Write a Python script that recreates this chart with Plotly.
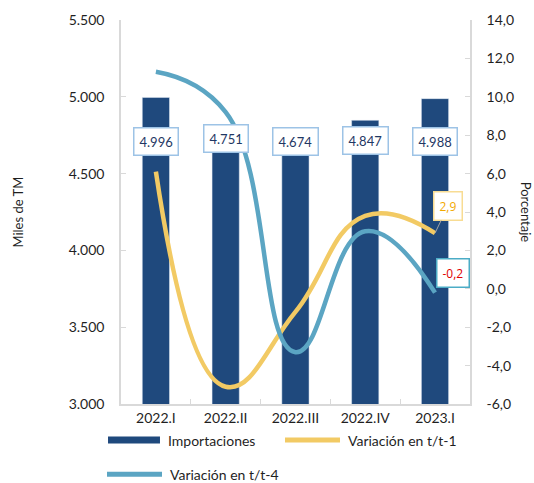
import plotly.graph_objects as go

# Quarterly imports (thousand TM) and growth rates (%)
quarters = ["2022.I", "2022.II", "2022.III", "2022.IV", "2023.I"]
imports_k_tm = [4996, 4751, 4674, 4847, 4988]
var_t1 = [6.1, -5.1, -1.2, 3.8, 2.9]
var_t4 = [11.3, 9.2, -3.3, 3.0, -0.2]
import_labels = ["4.996", "4.751", "4.674", "4.847", "4.988"]
left_ticks = [3000, 3500, 4000, 4500, 5000, 5500]
left_tick_text = ["3.000", "3.500", "4.000", "4.500", "5.000", "5.500"]
right_ticks = [-6, -4, -2, 0, 2, 4, 6, 8, 10, 12, 14]
right_tick_text = ["-6,0", "-4,0", "-2,0", "0,0", "2,0", "4,0", "6,0",
                   "8,0", "10,0", "12,0", "14,0"]

NAVY = "#1F497D"
GOLD = "#F2CA64"
TEAL = "#5BA5C3"
AXIS = "#D9D9D9"
TEXT = "#1F1F1F"
FONT = "Lato, 'Open Sans', sans-serif"

fig = go.Figure()

fig.add_trace(go.Bar(
    x=quarters, y=imports_k_tm, marker_color=NAVY, showlegend=False,
    name="Importaciones", yaxis="y",
))
fig.add_trace(go.Scatter(
    x=quarters, y=var_t1, mode="lines", name="Variación en t/t-1", showlegend=False,
    line=dict(color=GOLD, width=4.5, shape="spline", smoothing=1.3),
    yaxis="y2",
))
fig.add_trace(go.Scatter(
    x=quarters, y=var_t4, mode="lines", name="Variación en t/t-4", showlegend=False,
    line=dict(color=TEAL, width=4.5, shape="spline", smoothing=1.3),
    yaxis="y2",
))

annotations = []
shapes = []

# value boxes for the bars
label_heights = [4712, 4728, 4708, 4718, 4708]
for q, txt, yv in zip(quarters, import_labels, label_heights):
    annotations.append(dict(
        x=q, y=yv, xref="x", yref="y", text=txt, showarrow=False,
        font=dict(family=FONT, size=13, color="#1F3864"),
        bgcolor="white", bordercolor="#9DC3E6", borderwidth=1.5, borderpad=5,
    ))

# end-point callouts for the two rates
annotations.append(dict(
    x=quarters[-1], y=var_t1[-1], xref="x", yref="y2",
    text="2,9", showarrow=True, arrowhead=0, arrowwidth=1, arrowcolor="#A6A6A6",
    ax=13, ay=-27, standoff=0,
    font=dict(family="'Open Sans', sans-serif", size=12, color="#F2A900"),
    bgcolor="white", bordercolor="#F8DC93", borderwidth=1.5, borderpad=5,
))
annotations.append(dict(
    x=quarters[-1], y=var_t4[-1], xref="x", yref="y2",
    text="-0,2", showarrow=False, xshift=18, yshift=20,
    font=dict(family="'Open Sans', sans-serif", size=12, color="#E00000"),
    bgcolor="white", bordercolor="#4BACC6", borderwidth=1.5, borderpad=5,
))

# axis titles
annotations.append(dict(
    x=-0.325, y=0.5, xref="paper", yref="paper", text="Miles de TM",
    textangle=-90, showarrow=False, font=dict(family=FONT, size=13, color=TEXT),
))
annotations.append(dict(
    x=1.19, y=0.5, xref="paper", yref="paper", text="Porcentaje",
    textangle=90, showarrow=False, font=dict(family=FONT, size=13, color=TEXT),
))

# legend keys drawn below the plot area
legend_items = [
    ("Importaciones", NAVY, 7, -0.0372, 0.1117, -0.094),
    ("Variación en t/t-1", GOLD, 5, 0.4699, 0.6275, -0.094),
    ("Variación en t/t-4", TEAL, 5, -0.0401, 0.1175, -0.183),
]
for name, color, w, x0, x1, yy in legend_items:
    shapes.append(dict(
        type="line", xref="paper", yref="paper", x0=x0, x1=x1, y0=yy, y1=yy,
        line=dict(color=color, width=w),
    ))
    annotations.append(dict(
        x=x1 + 0.016, y=yy, xref="paper", yref="paper", text=name,
        xanchor="left", yanchor="middle", showarrow=False,
        font=dict(family=FONT, size=14, color=TEXT),
    ))

fig.update_layout(
    width=534, height=483,
    margin=dict(l=121, r=64, t=20, b=79),
    paper_bgcolor="white", plot_bgcolor="white",
    bargap=0.61,
    showlegend=False,
    font=dict(family=FONT, size=14, color=TEXT),
    xaxis=dict(
        type="category", showline=True, linecolor=AXIS, linewidth=1.5,
        ticks="inside", tickson="boundaries", ticklen=5, tickcolor=AXIS,
        showgrid=False, tickfont=dict(size=14, color=TEXT),
    ),
    yaxis=dict(
        range=[3000, 5500], tickvals=left_ticks, ticktext=left_tick_text,
        showline=True, linecolor=AXIS, linewidth=1.5,
        ticks="inside", ticklen=5, tickcolor=AXIS, showgrid=False, zeroline=False,
        ticklabelstandoff=12,
    ),
    yaxis2=dict(
        range=[-6, 14], tickvals=right_ticks, ticktext=right_tick_text,
        overlaying="y", side="right",
        showline=True, linecolor=AXIS, linewidth=1.5,
        ticks="inside", ticklen=5, tickcolor=AXIS, showgrid=False, zeroline=False,
        ticklabelstandoff=12,
    ),
    annotations=annotations,
    shapes=shapes,
)

fig.write_html("out.html")
